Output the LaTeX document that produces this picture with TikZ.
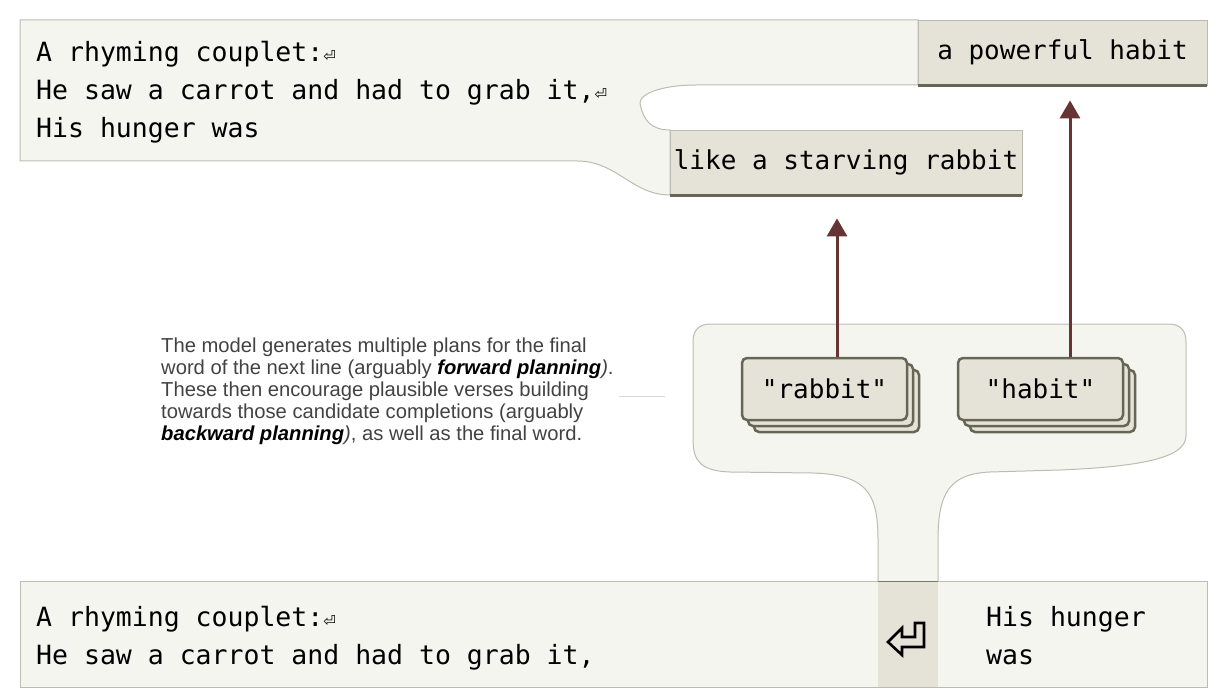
\documentclass[tikz,border=0pt]{standalone}
\usepackage{fontspec}
\setmainfont{Liberation Sans}
\newfontfamily\codefont{DejaVu Sans Mono}
\newfontfamily\symfont{DejaVu Sans}
\usetikzlibrary{positioning,arrows.meta,shadows}

\definecolor{paper}{RGB}{245,245,240}
\definecolor{rim}{RGB}{188,188,178}
\definecolor{tokfill}{RGB}{229,227,215}
\definecolor{tokline}{RGB}{102,102,86}
\definecolor{plumb}{RGB}{102,52,52}
\definecolor{notegray}{RGB}{66,66,66}
\definecolor{leadgray}{RGB}{218,218,218}

\newcommand{\retmark}{{\symfont\fontsize{15}{15}\selectfont ⏎}}

\tikzset{
  paperbox/.style={fill=paper, draw=rim, line width=1pt},
  code/.style={font=\codefont\fontsize{26.5}{38}\selectfont, anchor=base west, inner sep=0pt},
  tok/.style={fill=tokfill, draw=rim, line width=0.8pt, inner sep=0pt, minimum height=65pt,
    font=\codefont\fontsize{26}{38}\selectfont},
  tokbase/.style={draw=tokline, line width=3pt},
  plan/.style={draw=tokline, fill=tokfill, line width=2.5pt, rounded corners=5pt,
    minimum width=165pt, minimum height=62pt, inner sep=0pt,
    font=\codefont\fontsize{26}{38}\selectfont,
    copy shadow={shadow xshift=12pt, shadow yshift=-12pt, draw=tokline, fill=tokfill, line width=2.5pt},
    copy shadow={shadow xshift=6pt, shadow yshift=-6pt, draw=tokline, fill=tokfill, line width=2.5pt}},
  planarrow/.style={draw=plumb, line width=3pt, -{Triangle[width=20pt,length=18pt]}},
  note/.style={font=\fontsize{20.2}{22}\selectfont, text=notegray, align=left, inner sep=0pt},
  leader/.style={draw=leadgray, line width=1pt}
}

\begin{document}
\begin{tikzpicture}[x=1pt, y=-1pt]
  \useasboundingbox (0,0) rectangle (1225,700);

  % prompt with the two completions
  \filldraw[paperbox] (20,20) -- (918,20) -- (918,85) -- (696,85)
    .. controls (664,85) and (640,93) .. (640,103)
    .. controls (643,121) and (652,130) .. (670,130)
    -- (670,195) .. controls (632,195) and (617,161) .. (577,161)
    -- (20,161) -- cycle;
  \node[code] (t1) at (36,62) {A rhyming couplet:\retmark};
  \node[code] (t2) at (36,100) {He saw a carrot and had to grab it,\retmark};
  \node[code] (t3) at (36,138) {His hunger was};

  \node[tok, minimum width=289pt] (habittok) at (1062.5,52.5) {a powerful habit};
  \draw[tokbase] (habittok.south west) -- (habittok.south east);
  \node[tok, minimum width=352pt] (rabbittok) at (846,162.5) {like a starving rabbit};
  \draw[tokbase] (rabbittok.south west) -- (rabbittok.south east);

  % prompt at the newline token
  \filldraw[paperbox] (20,581) rectangle (1207,687);
  \node[code] (b1) at (36,626) {A rhyming couplet:\retmark};
  \node[code] (b2) at (36,664) {He saw a carrot and had to grab it,};
  \node[code] (b3) at (986,626) {His hunger};
  \node[code] (b4) at (986,664) {was};
  \node[fill=tokfill, minimum width=60pt, minimum height=106pt, inner sep=0pt] (retbox) at (908,634) {};
  \draw[tokbase] (retbox.north west) -- (retbox.north east);
  \draw[line width=2.6pt, line join=miter, shift={(retbox.center)}]
    (-20,8) -- (-6,-6) -- (-6,3) -- (7,3) -- (7,-11) -- (16,-11)
    -- (16,13) -- (-6,13) -- (-6,21) -- cycle;

  % planned words
  \filldraw[paperbox] (878,581) -- (878,540)
    .. controls (878,492) and (866,475) .. (813,473)
    -- (730,472) .. controls (702,471) and (693,462) .. (693,440)
    -- (693,342) .. controls (693,330) and (699,324) .. (711,324)
    -- (1168,324) .. controls (1180,324) and (1186,330) .. (1186,342)
    -- (1186,436) .. controls (1186,460) and (1130,467) .. (1060,470)
    -- (990,472) .. controls (950,474) and (938,492) .. (938,540)
    -- (938,581);
  \node[plan] (rabbitplan) at (824.5,389) {"rabbit"};
  \node[plan] (habitplan) at (1040.5,389) {"habit"};

  \draw[planarrow, shorten >=23pt] ([xshift=12.5pt]rabbitplan.north)
    -- ([xshift=12.5pt]rabbitplan.north |- rabbittok.south);
  \draw[planarrow, shorten >=15pt] ([xshift=29.5pt]habitplan.north)
    -- ([xshift=29.5pt]habitplan.north |- habittok.south);

  % explanation
  \node[note, anchor=north west] (note) at (161,338)
    {The model generates multiple plans for the final\\
     word of the next line (arguably {\color{black}\bfseries\itshape forward planning}{\itshape )}.\\
     These then encourage plausible verses building\\
     towards those candidate completions (arguably\\
     {\color{black}\bfseries\itshape backward planning}{\itshape )}, as well as the final word.};
  \coordinate (notetip) at (665,396);
  \draw[leader] ([xshift=5pt]notetip -| note.east) -- (notetip);

\end{tikzpicture}
\end{document}
